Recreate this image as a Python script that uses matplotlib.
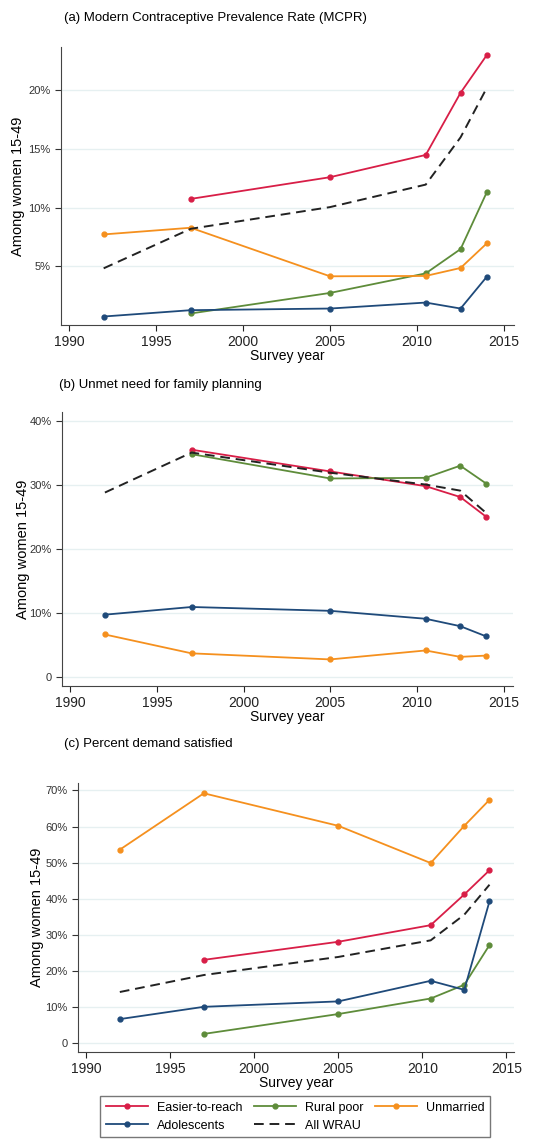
"""Three-panel family planning trends chart"""
import matplotlib
matplotlib.use("Agg")
import matplotlib.pyplot as plt
import numpy as np
from matplotlib.ticker import FuncFormatter

plt.rcParams["font.family"] = ["Liberation Sans", "DejaVu Sans"]

YEARS = [1992, 1997, 2005, 2010.5, 2012.5, 2014]
NA = np.nan

# (a) MCPR
MCPR_EASIER = [NA, 10.75, 12.6, 14.5, 19.8, 23.0]
MCPR_RURAL = [NA, 0.98, 2.73, 4.4, 6.47, 11.3]
MCPR_UNMARRIED = [7.72, 8.29, 4.15, 4.18, 4.86, 6.95]
MCPR_ADOLESCENTS = [0.72, 1.26, 1.4, 1.91, 1.4, 4.1]
MCPR_ALL = [4.83, 8.2, 10.05, 11.97, 16.0, 20.2]

# (b) unmet need
UNMET_EASIER = [NA, 35.5, 32.1, 29.8, 28.1, 25.0]
UNMET_RURAL = [NA, 34.8, 31.0, 31.1, 33.0, 30.2]
UNMET_UNMARRIED = [6.6, 3.65, 2.7, 4.1, 3.1, 3.3]
UNMET_ADOLESCENTS = [9.7, 10.9, 10.3, 9.06, 7.9, 6.3]
UNMET_ALL = [28.8, 35.05, 31.9, 30.05, 29.1, 25.6]

# (c) demand satisfied
DEMAND_EASIER = [NA, 23.1, 28.1, 32.7, 41.2, 47.9]
DEMAND_RURAL = [NA, 2.6, 8.1, 12.4, 16.2, 27.2]
DEMAND_UNMARRIED = [53.6, 69.2, 60.2, 49.9, 60.2, 67.4]
DEMAND_ADOLESCENTS = [6.7, 10.1, 11.6, 17.3, 14.8, 39.3]
DEMAND_ALL = [14.2, 18.9, 23.9, 28.5, 35.6, 43.9]

TITLES = [
    "(a) Modern Contraceptive Prevalence Rate (MCPR)",
    "(b) Unmet need for family planning",
    "(c) Percent demand satisfied",
]
XTICKS = [1990, 1995, 2000, 2005, 2010, 2015]

RED = "#D81E47"
GREEN = "#5E8C3A"
ORANGE = "#F5901E"
BLUE = "#1F4A7A"

PANELS = [
    dict(easier=MCPR_EASIER, rural=MCPR_RURAL, unmarried=MCPR_UNMARRIED,
         adol=MCPR_ADOLESCENTS, all=MCPR_ALL, yticks=[5, 10, 15, 20],
         ylim=(0, 23.7), xlim=(1989.54, 2015.57),
         rect=[0.111, 0.7147, 0.827, 0.244], title_xy=(0.117, 1 - 18 / 1139),
         ylab_x=18 / 548),
    dict(easier=UNMET_EASIER, rural=UNMET_RURAL, unmarried=UNMET_UNMARRIED,
         adol=UNMET_ADOLESCENTS, all=UNMET_ALL, yticks=[0, 10, 20, 30, 40],
         ylim=(-1.46, 41.4), xlim=(1989.52, 2015.54),
         rect=[0.113, 0.3977, 0.823, 0.2406], title_xy=(0.108, 1 - 385 / 1139),
         ylab_x=23 / 548),
    dict(easier=DEMAND_EASIER, rural=DEMAND_RURAL, unmarried=DEMAND_UNMARRIED,
         adol=DEMAND_ADOLESCENTS, all=DEMAND_ALL,
         yticks=[0, 10, 20, 30, 40, 50, 60, 70],
         ylim=(-2.4, 72), xlim=(1989.5, 2015.46),
         rect=[0.142, 0.0764, 0.796, 0.236], title_xy=(0.117, 1 - 744 / 1139),
         ylab_x=37 / 548),
]


def pct(value, _pos):
    return "0" if value == 0 else "%d%%" % value


fig = plt.figure(figsize=(5.48, 11.39), dpi=100)
handles = {}
for panel, title in zip(PANELS, TITLES):
    axis = fig.add_axes(panel["rect"])
    style = dict(marker="o", markersize=3.5, linewidth=1.3)
    handles["easier"], = axis.plot(YEARS, panel["easier"], color=RED, label="Easier-to-reach", **style)
    handles["rural"], = axis.plot(YEARS, panel["rural"], color=GREEN, label="Rural poor", **style)
    handles["unmarried"], = axis.plot(YEARS, panel["unmarried"], color=ORANGE, label="Unmarried", **style)
    handles["adol"], = axis.plot(YEARS, panel["adol"], color=BLUE, label="Adolescents", **style)
    handles["all"], = axis.plot(YEARS, panel["all"], color="#222222", linestyle=(0, (5, 3)),
                                linewidth=1.4, label="All WRAU")
    axis.set_xlim(*panel["xlim"])
    axis.set_ylim(*panel["ylim"])
    axis.set_xticks(XTICKS)
    axis.set_yticks(panel["yticks"])
    axis.yaxis.set_major_formatter(FuncFormatter(pct))
    axis.grid(axis="y", color="#E6F0F1", linewidth=1.0)
    axis.set_axisbelow(True)
    for side in ("top", "right"):
        axis.spines[side].set_visible(False)
    for side in ("left", "bottom"):
        axis.spines[side].set_color("#444444")
    axis.tick_params(axis="y", labelsize=8, colors="#333333", length=4)
    axis.tick_params(axis="x", labelsize=10, colors="#222222", length=4)
    axis.set_xlabel("Survey year", fontsize=10, labelpad=0)
    fig.text(panel["ylab_x"], panel["rect"][1] + panel["rect"][3] / 2, "Among women 15-49",
             rotation=90, fontsize=10.5, ha="center", va="center")
    fig.text(panel["title_xy"][0], panel["title_xy"][1], title, fontsize=9.5,
             ha="left", va="center")

order = ["easier", "adol", "rural", "all", "unmarried"]
fig.legend([handles[k] for k in order], [handles[k].get_label() for k in order],
           ncol=3, loc="upper left", bbox_to_anchor=(0.1825, 0.0378),
           fontsize=9, handlelength=3.4, frameon=True, fancybox=False,
           edgecolor="#555555", borderaxespad=0, borderpad=0.45, labelspacing=0.5,
           handletextpad=0.7, columnspacing=0.9)

fig.savefig("out.png", dpi=100)
